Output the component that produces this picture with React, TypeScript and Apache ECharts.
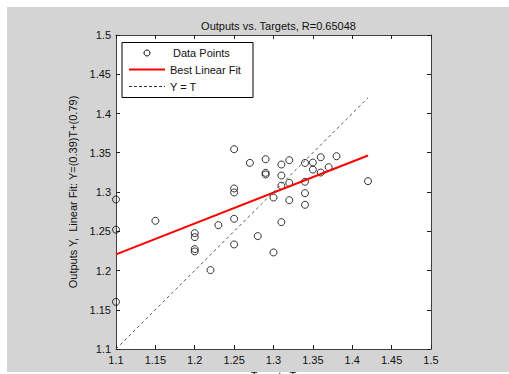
import React, { useEffect, useRef } from "react";
import * as echarts from "echarts";

const targets = [
  1.1, 1.1, 1.1, 1.15, 1.2, 1.2, 1.2, 1.2, 1.22, 1.23,
  1.25, 1.25, 1.25, 1.25, 1.25, 1.27, 1.28, 1.29, 1.29, 1.29,
  1.3, 1.3, 1.31, 1.31, 1.31, 1.31, 1.32, 1.32, 1.32, 1.34,
  1.34, 1.34, 1.34, 1.35, 1.35, 1.36, 1.36, 1.37, 1.38, 1.42,
];
const outputs = [
  1.2905, 1.252, 1.16, 1.2633, 1.2476, 1.2425, 1.2273, 1.2243, 1.2005, 1.2578,
  1.3545, 1.3045, 1.2994, 1.2659, 1.2332, 1.3371, 1.2438, 1.3418, 1.3244, 1.3223,
  1.293, 1.223, 1.335, 1.321, 1.308, 1.2616, 1.3405, 1.3117, 1.2896, 1.337,
  1.313, 1.2985, 1.2837, 1.3375, 1.3286, 1.3443, 1.3248, 1.3316, 1.3456, 1.3138,
];
const fitT = [1.1, 1.42];
const fitY = [1.2205, 1.3465];
const identityT = [1.1, 1.42];
const identityY = [1.1, 1.42];
const axisTicks = [1.1, 1.15, 1.2, 1.25, 1.3, 1.35, 1.4, 1.45, 1.5];

const titleText = "Outputs vs. Targets, R=0.65048";
const xName = "Targets T";
const yName = "Outputs Y,  Linear Fit: Y=(0.39)T+(0.79)";
const legendNames = ["Data Points", "Best Linear Fit", "Y = T"];

const FONT = "'Liberation Sans', Arial, Helvetica, sans-serif";

export default function App() {
  const ref = useRef<HTMLDivElement>(null);
  useEffect(() => {
    document.body.style.margin = "0";
    if (!ref.current) return;
    const chart = echarts.init(ref.current, undefined, { renderer: "svg" });
    const fmt = (v: number) => {
      const r = Math.round(v * 100) / 100;
      return axisTicks.some((t) => Math.abs(t - r) < 1e-9) ? String(r) : "";
    };
    const axisCommon = {
      type: "value" as const,
      min: 1.1,
      max: 1.5,
      interval: 0.05,
      splitLine: { show: false },
      axisLine: { show: true, onZero: false, lineStyle: { color: "#404040", width: 1 } },
      axisTick: { show: true, inside: true, length: 4, lineStyle: { color: "#202020" } },
    };
    chart.setOption({
      animation: false,
      textStyle: { fontFamily: FONT },
      title: {
        text: titleText,
        left: 273.5,
        textAlign: "center",
        top: 15,
        textStyle: { fontSize: 11, fontWeight: "normal", color: "#111", fontFamily: FONT },
      },
      grid: {
        left: 116,
        top: 35,
        width: 315,
        height: 314,
        show: true,
        backgroundColor: "#ffffff",
        borderWidth: 0,
        containLabel: false,
        outerBoundsMode: "none",
      },
      xAxis: [
        {
          ...axisCommon,
          position: "bottom",
          name: xName,
          nameLocation: "middle",
          nameGap: 21,
          nameTextStyle: { fontSize: 11, color: "#111", fontFamily: FONT },
          axisLabel: { fontSize: 11, color: "#111", margin: 5, formatter: fmt, fontFamily: FONT },
        },
        {
          ...axisCommon,
          position: "top",
          axisLabel: { show: false },
        },
      ],
      yAxis: [
        {
          ...axisCommon,
          position: "left",
          name: yName,
          nameLocation: "middle",
          nameGap: 35,
          nameTextStyle: { fontSize: 11, color: "#111", fontFamily: FONT },
          axisLabel: { fontSize: 11, color: "#111", margin: 5, formatter: fmt, fontFamily: FONT },
        },
        {
          ...axisCommon,
          position: "right",
          axisLabel: { show: false },
        },
      ],
      series: [
        {
          name: legendNames[0],
          type: "scatter",
          data: targets.map((t, i) => [t, outputs[i]]),
          symbol: "circle",
          symbolSize: 7,
          itemStyle: { color: "rgba(0,0,0,0)", borderColor: "#000", borderWidth: 1 },
          z: 3,
        },
        {
          name: legendNames[1],
          type: "line",
          data: fitT.map((t, i) => [t, fitY[i]]),
          showSymbol: false,
          lineStyle: { color: "#ff0000", width: 2 },
          z: 4,
        },
        {
          name: legendNames[2],
          type: "line",
          data: identityT.map((t, i) => [t, identityY[i]]),
          showSymbol: false,
          lineStyle: { color: "#555", width: 1, type: [3, 3] },
          z: 4,
        },
      ],
      graphic: [
        {
          type: "rect",
          z: 100,
          shape: { x: 122, y: 42.5, width: 131, height: 55 },
          style: { fill: "#fff", stroke: "#000", lineWidth: 1 },
        },
        {
          type: "circle",
          z: 101,
          shape: { cx: 147, cy: 53, r: 3 },
          style: { fill: "none", stroke: "#000", lineWidth: 1 },
        },
        {
          type: "text",
          z: 101,
          x: 173,
          y: 53,
          style: { text: legendNames[0], fontSize: 11, fill: "#111", fontFamily: FONT, verticalAlign: "middle" },
        },
        {
          type: "line",
          z: 101,
          shape: { x1: 129, y1: 69.5, x2: 165, y2: 69.5 },
          style: { stroke: "#ff0000", lineWidth: 2 },
        },
        {
          type: "text",
          z: 101,
          x: 170,
          y: 70,
          style: { text: legendNames[1], fontSize: 11, fill: "#111", fontFamily: FONT, verticalAlign: "middle" },
        },
        {
          type: "line",
          z: 101,
          shape: { x1: 129, y1: 86.5, x2: 165, y2: 86.5 },
          style: { stroke: "#333", lineWidth: 1, lineDash: [3, 2] },
        },
        {
          type: "text",
          z: 101,
          x: 170,
          y: 87,
          style: { text: legendNames[2], fontSize: 11, fill: "#111", fontFamily: FONT, verticalAlign: "middle" },
        },
      ],
    });
    return () => chart.dispose();
  }, []);
  return (
    <div style={{ position: "relative", width: 509, height: 374, background: "#fff", overflow: "hidden" }}>
      <div style={{ position: "absolute", left: 7, top: 7, width: 502, height: 365, background: "#d4d4d4" }} />
      <div ref={ref} style={{ position: "absolute", left: 0, top: 0, width: 509, height: 374 }} />
    </div>
  );
}
